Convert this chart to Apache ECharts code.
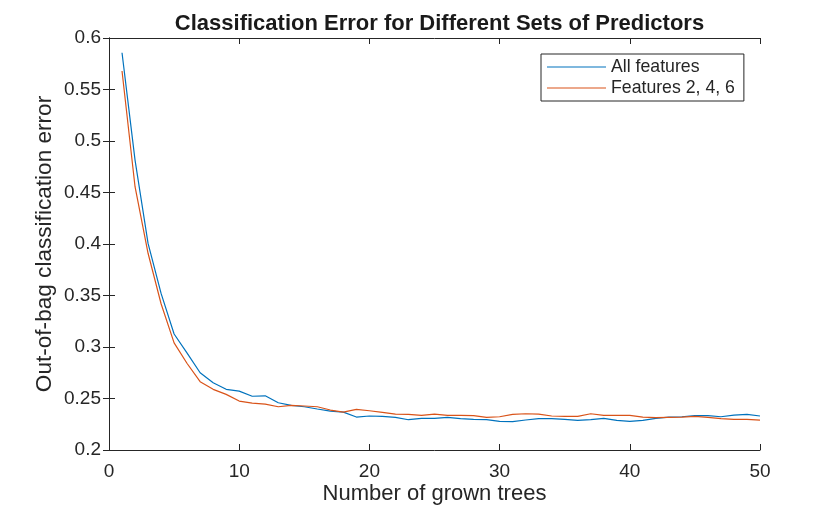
<!DOCTYPE html>
<html>
<head>
<meta charset="utf-8">
<script src="https://cdn.jsdelivr.net/npm/echarts@6/dist/echarts.min.js"></script>
<style>
html,body{margin:0;padding:0;background:#fff;}
#J_Main{width:840px;height:506px;}
</style>
</head>
<body>
<div id="J_Main"></div>
<script>
// number of grown trees
var trees=[];
for(var i=1;i<=50;i++){trees.push(i);}

var allFeatures=[0.5857,0.4815,0.4006,0.352,0.3126,0.294,0.275,0.2653,0.2589,0.2572,
    0.2522,0.2526,0.2459,0.2433,0.242,0.2398,0.2378,0.2368,0.232,0.233,
    0.2327,0.2317,0.2294,0.2307,0.2307,0.2317,0.2304,0.2297,0.2294,0.2278,
    0.2275,0.2291,0.2304,0.2304,0.2297,0.2288,0.2294,0.2307,0.2288,0.2278,
    0.2288,0.2307,0.232,0.2323,0.2333,0.2333,0.2323,0.2339,0.2346,0.233];

var features246=[0.568,0.4556,0.391,0.342,0.304,0.284,0.2663,0.2589,0.254,0.2475,
    0.2456,0.2446,0.242,0.2433,0.2427,0.242,0.2388,0.2368,0.2394,0.2381,
    0.2365,0.2349,0.2346,0.2336,0.2349,0.2336,0.2336,0.2333,0.2317,0.2323,
    0.2346,0.2352,0.2349,0.233,0.2327,0.2327,0.2352,0.2336,0.2336,0.2336,
    0.232,0.2314,0.2317,0.232,0.2327,0.2317,0.2304,0.2297,0.2297,0.2291];

var seriesNames=["All features","Features 2, 4, 6"];
var seriesColors=["#0072BD","#D95319"];

var font="'Liberation Sans', Arial, Helvetica, sans-serif";
var axisColor="#262626";

function pairs(ys){
    return ys.map(function(y,idx){return [trees[idx],y];});
}

var myChart=echarts.init(document.getElementById("J_Main"));
var option={
    animation:false,
    title:{
        text:"Classification Error for Different Sets of Predictors",
        left:434.5,
        textAlign:"center",
        top:8,
        textStyle:{fontFamily:font,fontSize:22,fontWeight:"bold",color:"#1a1a1a"}
    },
    legend:{
        orient:"vertical",
        left:541,
        top:54,
        icon:"rect",
        itemWidth:59,
        itemHeight:1.2,
        itemGap:3,
        padding:[4,9,4,6],
        borderColor:axisColor,
        borderWidth:1,
        borderRadius:0,
        backgroundColor:"#fff",
        textStyle:{fontFamily:font,fontSize:17.7,color:axisColor},
        data:seriesNames
    },
    grid:{left:109,right:80,top:38,bottom:56,containLabel:false,outerBoundsMode:"none"},
    xAxis:[{
        type:"value",min:0,max:50,interval:10,
        name:"Number of grown trees",
        nameLocation:"middle",nameGap:33,nameMoveOverlap:false,
        nameTextStyle:{fontFamily:font,fontSize:22,color:axisColor},
        axisLine:{show:true,onZero:false,lineStyle:{color:axisColor,width:1}},
        axisTick:{show:true,inside:true,length:6,lineStyle:{color:axisColor}},
        axisLabel:{fontFamily:font,fontSize:19,color:axisColor,margin:12},
        splitLine:{show:false}
    },{
        type:"value",min:0,max:50,interval:10,position:"top",
        axisLine:{show:true,lineStyle:{color:axisColor,width:1}},
        axisTick:{show:true,inside:true,length:6,lineStyle:{color:axisColor}},
        axisLabel:{show:false},
        splitLine:{show:false}
    }],
    yAxis:[{
        type:"value",min:0.2,max:0.6,interval:0.05,
        name:"Out-of-bag classification error",
        nameLocation:"middle",nameGap:53,nameMoveOverlap:false,
        nameTextStyle:{fontFamily:font,fontSize:22.6,color:axisColor},
        axisLine:{show:true,onZero:false,lineStyle:{color:axisColor,width:1}},
        axisTick:{show:true,inside:true,length:6,lineStyle:{color:axisColor}},
        axisLabel:{fontFamily:font,fontSize:19,color:axisColor,margin:8,
            formatter:function(v){return String(+v.toFixed(2));}},
        splitLine:{show:false}
    },{
        type:"value",min:0.2,max:0.6,interval:0.05,position:"right",
        axisLine:{show:true,lineStyle:{color:axisColor,width:1}},
        axisTick:{show:true,inside:true,length:6,lineStyle:{color:axisColor}},
        axisLabel:{show:false},
        splitLine:{show:false}
    }],
    series:[{
        name:seriesNames[0],
        type:"line",
        symbol:"none",
        color:seriesColors[0],
        lineStyle:{color:seriesColors[0],width:1.2},
        data:pairs(allFeatures)
    },{
        name:seriesNames[1],
        type:"line",
        symbol:"none",
        color:seriesColors[1],
        lineStyle:{color:seriesColors[1],width:1.2},
        data:pairs(features246)
    }]
};
myChart.setOption(option);
</script>
</body>
</html>
